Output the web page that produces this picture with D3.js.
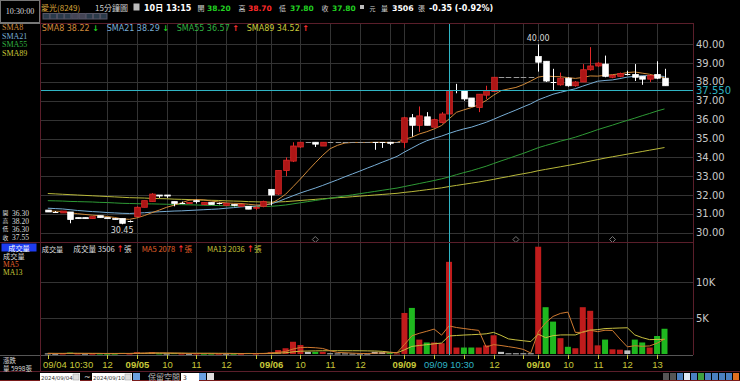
<!DOCTYPE html>
<html><head><meta charset="utf-8">
<script src="https://cdn.jsdelivr.net/npm/d3@7/dist/d3.min.js"></script>
<style>
html,body{margin:0;padding:0;background:#000;overflow:hidden}
svg{display:block}
text{font-family:"DejaVu Sans","Noto Sans CJK TC",sans-serif}
.cjk{font-family:"Noto Sans CJK TC","DejaVu Sans",sans-serif}
.ser{font-family:"Liberation Serif","Noto Sans CJK TC",serif}
.lib{font-family:"Liberation Sans","Noto Sans CJK TC",sans-serif}
</style></head>
<body><svg id="c" width="740" height="381"></svg>
<script>
// ---------- DATA (15-minute bars, 09/04 10:30 .. 09/10 13:15) ----------
const opens  = [31.20,31.10,31.05,31.10,30.80,30.80,30.75,30.90,30.80,30.75,30.75,30.60,
  30.85,31.35,31.65,32.00,32.00,31.65,31.60,31.55,31.70,31.50,31.60,31.55,31.45,31.50,31.40,31.40,31.30,31.40,
  32.30,32.05,33.30,33.80,34.55,34.80,34.80,34.60,34.80,34.80,34.80,34.80,34.80,34.80,34.80,34.80,34.80,34.80,
  34.80,36.10,35.70,36.15,35.60,35.85,36.30,37.60,37.55,37.15,36.65,37.30,37.50,38.25,38.25,38.25,38.25,38.25,
  39.35,39.10,38.00,37.85,38.20,37.80,38.00,38.65,38.85,38.95,38.25,38.30,38.45,38.40,38.30,38.15,38.40,38.20];
const highs  = [31.20,31.15,31.15,31.10,30.80,30.80,30.85,30.90,30.80,30.75,30.75,30.65,
  31.40,31.70,32.10,32.00,32.00,31.65,31.65,31.60,31.75,31.60,31.60,31.60,31.55,31.50,31.50,31.40,31.40,31.70,
  32.30,33.30,34.00,34.80,34.80,34.80,34.80,34.80,34.80,34.80,34.80,34.80,34.80,34.80,34.80,34.80,34.80,34.80,
  36.15,36.30,36.70,36.40,36.05,36.40,38.20,37.90,37.55,37.15,37.35,37.80,38.25,38.25,38.25,38.25,38.25,38.25,
  40.00,39.10,38.70,38.50,38.25,38.05,38.95,39.85,39.05,39.40,38.40,38.50,38.60,38.95,38.30,38.35,39.10,38.70];
const lows   = [31.10,31.05,31.05,30.50,30.75,30.75,30.75,30.80,30.75,30.70,30.45,30.55,
  30.85,31.35,31.65,31.85,31.85,31.40,31.55,31.55,31.55,31.50,31.50,31.50,31.45,31.40,31.40,31.25,31.20,31.35,
  31.45,32.00,33.00,33.75,34.50,34.80,34.55,34.60,34.80,34.80,34.80,34.80,34.80,34.80,34.40,34.50,34.65,34.80,
  34.50,35.10,35.35,35.70,35.60,35.80,36.30,37.40,37.00,36.70,36.40,37.10,37.50,38.25,38.25,38.25,38.25,38.25,
  38.55,38.00,37.55,37.80,37.75,37.75,38.00,38.60,38.80,38.25,38.20,38.25,38.35,38.05,37.85,38.00,38.15,37.80];
const closes = [31.10,31.10,31.15,30.70,30.75,30.75,30.85,30.80,30.75,30.70,30.50,30.60,
  31.35,31.70,32.05,31.95,31.95,31.55,31.60,31.60,31.65,31.60,31.50,31.55,31.55,31.45,31.50,31.25,31.35,31.65,
  32.00,33.30,33.85,34.60,34.80,34.80,34.70,34.80,34.80,34.80,34.80,34.80,34.80,34.80,34.80,34.80,34.75,34.80,
  36.10,35.70,36.20,35.70,36.00,36.30,37.55,37.60,37.10,36.70,37.35,37.55,38.25,38.25,38.25,38.25,38.25,38.25,
  39.05,38.05,38.00,38.20,37.80,38.00,38.65,38.85,39.00,38.30,38.35,38.45,38.45,38.25,38.15,38.35,38.20,37.80];
const volumes = [80,40,60,200,60,50,40,60,40,50,150,60,
  250,150,250,80,60,120,50,40,60,40,50,40,50,40,40,150,60,120,
  250,550,800,1700,1250,300,300,300,100,80,80,60,60,60,300,250,200,80,
  5700,6400,2000,1600,1600,1500,12800,900,900,900,900,1200,2600,300,100,100,100,100,
  14900,6500,4500,2200,1000,800,6500,6000,1200,2000,650,600,500,2000,1600,900,2500,3506];
const sma8 = [31.15,31.14,31.13,31.06,31.01,30.97,30.93,30.90,30.86,30.81,30.73,30.71,
  30.79,30.91,31.06,31.20,31.35,31.46,31.59,31.72,31.76,31.74,31.68,31.63,31.58,31.56,31.55,31.51,31.47,31.48,
  31.54,31.76,32.04,32.44,32.85,33.29,33.71,34.11,34.46,34.64,34.76,34.79,34.79,34.79,34.80,34.80,34.79,34.79,
  34.96,35.07,35.24,35.36,35.51,35.69,36.04,36.39,36.52,36.64,36.79,37.02,37.30,37.54,37.63,37.71,37.86,38.05,
  38.26,38.32,38.29,38.28,38.23,38.19,38.24,38.32,38.31,38.35,38.39,38.43,38.50,38.53,38.47,38.41,38.31,38.22];
const sma21 = [31.30,31.28,31.26,31.22,31.18,31.15,31.12,31.10,31.07,31.05,31.03,31.02,
  31.04,31.06,31.09,31.11,31.13,31.15,31.16,31.18,31.20,31.22,31.24,31.26,31.30,31.33,31.37,31.39,31.41,31.46,
  31.52,31.65,31.81,31.96,32.11,32.24,32.37,32.51,32.66,32.81,32.97,33.12,33.27,33.43,33.58,33.74,33.89,34.05,
  34.28,34.49,34.70,34.88,35.01,35.13,35.27,35.40,35.51,35.60,35.73,35.86,36.02,36.19,36.35,36.51,36.68,36.84,
  37.05,37.20,37.35,37.45,37.55,37.64,37.78,37.91,38.04,38.08,38.11,38.18,38.26,38.30,38.33,38.34,38.33,38.29];
const sma55 = [31.70,31.69,31.68,31.66,31.65,31.64,31.63,31.61,31.60,31.58,31.56,31.55,
  31.54,31.53,31.53,31.52,31.51,31.50,31.49,31.48,31.47,31.46,31.45,31.44,31.43,31.42,31.41,31.40,31.39,31.39,
  31.40,31.43,31.47,31.53,31.59,31.65,31.71,31.77,31.83,31.89,31.95,32.01,32.07,32.13,32.19,32.25,32.31,32.37,
  32.45,32.53,32.61,32.69,32.77,32.86,32.96,33.08,33.19,33.29,33.41,33.53,33.67,33.81,33.94,34.08,34.21,34.36,
  34.51,34.63,34.74,34.86,34.96,35.07,35.20,35.33,35.47,35.59,35.71,35.84,35.96,36.08,36.21,36.33,36.46,36.57];
const sma89 = [32.08,32.06,32.04,32.02,32.00,31.98,31.96,31.94,31.92,31.90,31.88,31.86,
  31.85,31.84,31.82,31.81,31.80,31.78,31.77,31.76,31.74,31.73,31.72,31.71,31.69,31.68,31.67,31.65,31.64,31.63,
  31.62,31.63,31.65,31.68,31.71,31.74,31.77,31.80,31.83,31.86,31.88,31.91,31.94,31.97,32.00,32.03,32.06,32.09,
  32.14,32.18,32.23,32.28,32.33,32.38,32.45,32.51,32.57,32.63,32.69,32.76,32.83,32.91,32.98,33.06,33.13,33.20,
  33.29,33.36,33.43,33.50,33.57,33.64,33.72,33.80,33.88,33.96,34.03,34.10,34.17,34.24,34.31,34.38,34.45,34.52];
const volMA5 = [80,70,65,95,88,82,82,82,50,48,68,72,
  110,132,172,158,158,132,112,70,66,62,48,46,48,44,44,64,68,82,
  124,226,356,684,910,920,870,770,450,216,172,124,76,68,112,146,174,178,
  1306,2526,2876,3156,3460,2620,3900,3680,3540,3400,3280,960,1300,1180,1020,860,640,140,
  3060,4340,5220,5640,5820,3000,3000,3300,3100,3300,3270,2090,990,1150,1070,1120,1500,2078];
const volMA13 = [90,88,85,90,88,85,82,80,78,78,82,80,
  88,93,109,111,100,105,105,105,105,105,105,96,95,79,71,63,62,66,
  76,115,173,299,392,412,432,451,455,458,453,453,448,434,415,372,257,167,
  582,1052,1182,1298,1415,1524,2504,2568,2633,2679,2729,2806,3000,2585,2100,1954,1838,1723,
  2754,2269,2546,2646,2654,2646,3054,3315,3385,3531,3573,3612,3642,2650,2273,1996,2019,2036];
const xTicks = [
  {i:0,label:"09/04 10:30",day:true},{i:8,label:"12"},{i:12,label:"09/05",day:true},
  {i:16,label:"10"},{i:20,label:"11"},{i:24,label:"12"},{i:28,label:""},
  {i:30,label:"09/06",day:true},{i:34,label:"10"},{i:38,label:"11"},{i:42,label:"12"},{i:46,label:""},
  {i:48,label:"09/09",day:true},{i:52,label:""},{i:56,label:""},{i:60,label:"12"},{i:64,label:""},
  {i:66,label:"09/10",day:true},{i:70,label:"10"},{i:74,label:"11"},{i:78,label:"12"},{i:82,label:"13"}];
const priceTicks = [30,31,32,33,34,35,36,37,38,39,40];
const volTicks = [{v:5000,label:"5K"},{v:10000,label:"10K"}];
const crossIndex = 54, crossPrice = 37.55, crossLabel = "09/09 10:30";
const markerIdx = [36, 63, 76];

// ---------- LAYOUT ----------
const svg = d3.select("#c");
const L = 41, R = 693, pTop = 23, pBot = 241, vTop = 243, vBot = 355;
const x = d3.scaleLinear().domain([0, 83]).range([47.8, 664.5]);
const y = d3.scaleLinear().domain([30, 40]).range([232.7, 44.3]);
const yv = d3.scaleLinear().domain([0, 10000]).range([354, 282]);
const C = {border:"#5a1e2a", grid:"#333333", axis:"#c8c8c8", olive:"#c8c83a", cyan:"#2fb4c4",
  red:"#e02828", redFill:"#ad1616", green:"#1fc21f", sma8:"#d08a3a", sma21:"#78aed6", sma55:"#2e9a35", sma89:"#b9b93a"};

svg.append("rect").attr("width",740).attr("height",381).attr("fill","#000");

// grids
const g = svg.append("g");
g.selectAll(".hg").data(priceTicks).join("line")
  .attr("x1",L).attr("x2",R).attr("y1",d=>Math.round(y(d))+0.5).attr("y2",d=>Math.round(y(d))+0.5)
  .attr("stroke",C.grid).attr("stroke-width",1);
g.selectAll(".vg").data(xTicks.filter(t=>t.i>0)).join("line")
  .attr("x1",d=>Math.round(x(d.i))+0.5).attr("x2",d=>Math.round(x(d.i))+0.5)
  .attr("y1",pTop).attr("y2",vBot).attr("stroke",C.grid);
g.selectAll(".vgh").data(volTicks).join("line")
  .attr("x1",L).attr("x2",R).attr("y1",d=>Math.round(yv(d.v))+0.5).attr("y2",d=>Math.round(yv(d.v))+0.5)
  .attr("stroke",C.grid);

// markers (diamonds)
svg.selectAll(".mk").data(markerIdx).join("path")
  .attr("d",d=>{const cx=x(d),cy=239.5;return `M${cx},${cy-3}L${cx+3},${cy}L${cx},${cy+3}L${cx-3},${cy}Z`;})
  .attr("fill","none").attr("stroke","#777");

// SMA lines
const idx = d3.range(closes.length);
const lineP = arr => d3.line().x(i=>x(i)).y(i=>y(arr[i]))(idx);
[[sma89,C.sma89],[sma55,C.sma55],[sma21,C.sma21],[sma8,C.sma8]].forEach(([a,c])=>{
  svg.append("path").attr("d",lineP(a)).attr("fill","none").attr("stroke",c).attr("stroke-width",1);
});

// candles
const bw = 5.6;
const cg = svg.append("g");
idx.forEach(i=>{
  const o=opens[i],h=highs[i],l=lows[i],c=closes[i],cx=Math.round(x(i))+0.5;
  if(o===c && h===l){
    cg.append("line").attr("x1",cx-bw/2).attr("x2",cx+bw/2).attr("y1",Math.round(y(c))+0.5).attr("y2",Math.round(y(c))+0.5)
      .attr("stroke","#9a9a9a");
    return;
  }
  const up = c>o, flat = c===o;
  const col = up? C.red : "#ffffff";
  cg.append("line").attr("x1",cx).attr("x2",cx).attr("y1",y(h)).attr("y2",y(l)).attr("stroke",col);
  if(flat){
    cg.append("line").attr("x1",cx-bw/2).attr("x2",cx+bw/2).attr("y1",Math.round(y(c))+0.5).attr("y2",Math.round(y(c))+0.5).attr("stroke","#fff");
  } else {
    const top=y(Math.max(o,c)), bot=y(Math.min(o,c));
    cg.append("rect").attr("x",cx-bw/2).attr("y",top).attr("width",bw).attr("height",Math.max(1,bot-top))
      .attr("fill",up?C.redFill:"#fff").attr("stroke",up?C.red:"#fff").attr("stroke-width",0.8);
  }
});
// max/min labels
const iMax = d3.maxIndex(highs), iMin = d3.minIndex(lows);
svg.append("text").attr("x",x(iMax)).attr("y",y(highs[iMax])-3).attr("text-anchor","middle")
  .attr("fill","#d8d8d8").attr("font-size",8).text(highs[iMax].toFixed(2));
svg.append("text").attr("x",x(iMin)).attr("y",y(lows[iMin])+9).attr("text-anchor","middle")
  .attr("fill","#d8d8d8").attr("font-size",8).text(lows[iMin].toFixed(2));

// volume bars
const vg = svg.append("g");
idx.forEach(i=>{
  const prev = i>0?closes[i-1]:closes[i];
  const col = closes[i]>prev? "#c01c1c" : closes[i]<prev? "#1fb81f" : "#c0c0c0";
  const top = yv(volumes[i]);
  vg.append("rect").attr("x",x(i)-3).attr("y",top).attr("width",6).attr("height",Math.max(1,yv(0)-top)).attr("fill",col);
});
const lineV = arr => d3.line().x(i=>x(i)).y(i=>yv(arr[i]))(idx);
svg.append("path").attr("d",lineV(volMA13)).attr("fill","none").attr("stroke","#c8c040").attr("stroke-width",1);
svg.append("path").attr("d",lineV(volMA5)).attr("fill","none").attr("stroke","#d07a30").attr("stroke-width",1);

// crosshair
svg.append("line").attr("x1",Math.round(x(crossIndex))+0.5).attr("x2",Math.round(x(crossIndex))+0.5)
  .attr("y1",pTop).attr("y2",vBot).attr("stroke",C.cyan);
svg.append("line").attr("x1",L).attr("x2",R).attr("y1",Math.round(y(crossPrice))+0.5).attr("y2",Math.round(y(crossPrice))+0.5)
  .attr("stroke",C.cyan);

// borders
const bd = svg.append("g").attr("stroke",C.border).attr("fill","none");
bd.append("line").attr("x1",40.5).attr("x2",40.5).attr("y1",0).attr("y2",372);
bd.append("line").attr("x1",R+0.5).attr("x2",R+0.5).attr("y1",pTop).attr("y2",vBot);
bd.append("line").attr("x1",40).attr("x2",R+1).attr("y1",pTop+0.5).attr("y2",pTop+0.5);
bd.append("line").attr("x1",0).attr("x2",R+1).attr("y1",242.5).attr("y2",242.5);
svg.append("line").attr("x1",L).attr("x2",R).attr("y1",vBot+0.5).attr("y2",vBot+0.5).attr("stroke","#555");
svg.append("line").attr("x1",0).attr("x2",740).attr("y1",371.5).attr("y2",371.5).attr("stroke",C.border);
svg.append("line").attr("x1",0).attr("x2",740).attr("y1",380.5).attr("y2",380.5).attr("stroke","#7a1b1b");

// right axis
svg.selectAll(".pt").data(priceTicks).join("text").attr("x",696).attr("y",d=>y(d)+3.5)
  .attr("fill",C.axis).attr("font-size",10).text(d=>d.toFixed(2));
svg.append("text").attr("x",696).attr("y",y(crossPrice)+4).attr("fill",C.cyan).attr("font-size",10).text(crossPrice.toFixed(3));
svg.selectAll(".vt").data(volTicks).join("text").attr("x",696).attr("y",d=>yv(d.v)+3.5)
  .attr("fill",C.axis).attr("font-size",10).text(d=>d.label);

// x axis
const xt = svg.append("g");
xTicks.forEach(t=>{
  const tx = Math.round(x(t.i))+0.5;
  xt.append("line").attr("x1",tx).attr("x2",tx).attr("y1",vBot).attr("y2",vBot+4).attr("stroke",C.olive);
  if(!t.label) return;
  const first = t.i===0;
  xt.append("text").attr("class","lib").attr("x",first?43:tx).attr("y",368).attr("text-anchor",first?"start":"middle")
    .attr("fill",C.olive).attr("font-size",9.5).attr("font-weight",t.day&&!first?"bold":"normal").text(t.label);
});
svg.append("text").attr("class","lib").attr("x",x(crossIndex)).attr("y",368).attr("text-anchor","middle").attr("fill",C.cyan)
  .attr("font-size",9.5).text(crossLabel);

// ---------- HEADER ----------
svg.append("rect").attr("x",0.5).attr("y",0.5).attr("width",39).attr("height",22).attr("fill","#000").attr("stroke","#777");
svg.append("text").attr("class","ser").attr("x",20).attr("y",14).attr("text-anchor","middle").attr("fill","#ddd").attr("font-size",8).text("10:30:00");
const hdr = [
  {x:41,t:"愛光(8249)",c:"#d9a63a",s:8,cjk:1},
  {x:95,t:"15分鐘圖",c:"#cfcfcf",s:8,cjk:1},
  {x:144,t:"10日 13:15",c:"#fff",s:8,b:1},
  {x:197.5,t:"開",c:"#cfcfcf",s:7,cjk:1},{x:207,t:"38.20",c:"#22d022",s:7.5,b:1},
  {x:238.5,t:"高",c:"#cfcfcf",s:7,cjk:1},{x:248,t:"38.70",c:"#ff2a2a",s:7.5,b:1},
  {x:279,t:"低",c:"#cfcfcf",s:7,cjk:1},{x:290,t:"37.80",c:"#22d022",s:7.5,b:1},
  {x:321.5,t:"收",c:"#cfcfcf",s:7,cjk:1},{x:332,t:"37.80",c:"#22d022",s:7.5,b:1},
  {x:369.5,t:"元",c:"#cfcfcf",s:6,cjk:1},
  {x:381,t:"量",c:"#cfcfcf",s:7,cjk:1},{x:392,t:"3506",c:"#fff",s:7.8,b:1},
  {x:418,t:"張",c:"#cfcfcf",s:7,cjk:1},{x:429,t:"-0.35 (-0.92%)",c:"#fff",s:8,b:1}];
hdr.forEach(d=>svg.append("text").attr("x",d.x).attr("y",10.5).attr("fill",d.c).attr("font-size",d.s)
  .attr("font-weight",d.b?"bold":"normal").attr("class",d.cjk?"cjk":null).text(d.t));
svg.append("rect").attr("x",133.5).attr("y",3.5).attr("width",6).attr("height",7).attr("fill","#bbb");
svg.append("rect").attr("x",360).attr("y",5).attr("width",4).attr("height",4).attr("fill","#bbb");
["1","5","10","15","30","60","日","週","月"].forEach((t,k)=>{
  const bx = 43+k*7.2;
  svg.append("rect").attr("x",bx).attr("y",13.5).attr("width",6.4).attr("height",5.5)
    .attr("fill",(k===4||k===5)?"#445":"#2a3a4a").attr("stroke","#556");
});

// SMA legend
const leg = [
  {x:41.7,t:"SMA8 38.22",c:C.sma8,a:"↓",ac:"#22d022"},
  {x:106.7,t:"SMA21 38.29",c:C.sma21,a:"↓",ac:"#22d022"},
  {x:176.7,t:"SMA55 36.57",c:"#30b040",a:"↑",ac:"#ff3030"},
  {x:246.7,t:"SMA89 34.52",c:"#c8c83a",a:"↑",ac:"#ff3030"}];
leg.forEach(d=>{
  const tx = svg.append("text").attr("x",d.x).attr("y",30.5).attr("font-size",8);
  tx.append("tspan").attr("fill",d.c).text(d.t+" ");
  tx.append("tspan").attr("fill",d.ac).attr("font-weight","bold").text(d.a);
});
// left labels
[["SMA8",C.sma8,30],["SMA21",C.sma21,38.5],["SMA55","#30b040",47],["SMA89","#c8c83a",55.5]].forEach(d=>
  svg.append("text").attr("class","ser").attr("x",2).attr("y",d[2]).attr("fill",d[1]).attr("font-size",8).text(d[0]));
svg.append("line").attr("x1",0).attr("x2",40).attr("y1",23.5).attr("y2",23.5).attr("stroke","#777");
[["開","36.30",215.5],["高","38.20",223.5],["低","36.30",231.5],["收","37.55",240]].forEach(d=>{
  svg.append("text").attr("x",2.5).attr("y",d[2]-0.5).attr("fill","#ddd").attr("font-size",5.8).attr("class","cjk").text(d[0]);
  svg.append("text").attr("x",12).attr("y",d[2]).attr("fill","#ddd").attr("font-size",7.5).attr("class","ser").text(d[1]);
});
svg.append("rect").attr("x",1.5).attr("y",243.5).attr("width",35).attr("height",8).attr("fill","#1e3cf0");
svg.append("text").attr("x",19).attr("y",250.5).attr("text-anchor","middle").attr("fill","#fff").attr("font-size",7.2).attr("class","cjk").text("成交量");
svg.append("text").attr("x",3).attr("y",258.5).attr("fill","#ddd").attr("font-size",7.2).attr("class","cjk").text("成交量");
svg.append("text").attr("x",3).attr("y",266.5).attr("fill","#e0602a").attr("font-size",7.5).attr("class","ser").text("MA5");
svg.append("text").attr("x",3).attr("y",275).attr("fill","#c8c83a").attr("font-size",7.5).attr("class","ser").text("MA13");
svg.append("text").attr("x",3).attr("y",362.5).attr("fill","#ddd").attr("font-size",6.5).attr("class","cjk").text("漲跌");
svg.append("text").attr("x",3).attr("y",371).attr("fill","#ddd").attr("font-size",6.5).attr("class","cjk").text("量 5998張");
svg.append("line").attr("x1",0).attr("x2",40).attr("y1",355.5).attr("y2",355.5).attr("stroke","#555");

// volume legend
svg.append("text").attr("x",41.7).attr("y",251.5).attr("font-size",7.2).attr("class","cjk").attr("fill","#ddd").text("成交量");
[[73.3,"成交量 3506","#ddd"],[141.7,"MA5 2078","#e0602a"],[207,"MA13 2036","#c8c83a"]].forEach(d=>{
  const t = svg.append("text").attr("x",d[0]).attr("y",251.5).attr("font-size",7.6).attr("class","cjk");
  t.append("tspan").attr("fill",d[2]).text(d[1]+" ");
  t.append("tspan").attr("fill","#ff3030").attr("font-weight","bold").text("↑");
  t.append("tspan").attr("fill",d[2]).text("張");
});

// bottom controls
[[40,"2024/09/04"],[92,"2024/09/10"]].forEach(d=>{
  svg.append("rect").attr("x",d[0]).attr("y",373).attr("width",40).attr("height",8).attr("fill","#fff");
  svg.append("text").attr("x",d[0]+1).attr("y",379.5).attr("fill","#333").attr("font-size",5.5).text(d[1]);
  svg.append("rect").attr("x",d[0]+33).attr("y",374).attr("width",6).attr("height",6).attr("fill","#ddd").attr("stroke","#999").attr("stroke-width",0.5);
});
svg.append("text").attr("x",84).attr("y",380).attr("fill","#ccc").attr("font-size",8).text("~");
svg.append("rect").attr("x",133).attr("y",373).attr("width",7).attr("height",7).attr("fill","#6aa0e0");
svg.append("text").attr("x",148).attr("y",380).attr("fill","#bbb").attr("font-size",8).attr("class","cjk").text("保留空間");
svg.append("rect").attr("x",181).attr("y",373).attr("width",18).attr("height",8).attr("fill","#fff");
svg.append("text").attr("x",183).attr("y",380).attr("fill","#333").attr("font-size",6).text("3");
svg.append("rect").attr("x",199).attr("y",373).attr("width",7).attr("height",7).attr("fill","#6aa0e0");
svg.append("rect").attr("x",207).attr("y",373).attr("width",7).attr("height",7).attr("fill","#ddd");
const tb = ["#555","#555","#4a7fc0","#dfe8f5","#4a7fc0","#3fa03f","#4a7fc0","#4a7fc0","#4a7fc0","#4a7fc0","#e07020"];
tb.forEach((c,k)=>svg.append("rect").attr("x",663+k*7).attr("y",373).attr("width",6).attr("height",7).attr("fill",c));
</script></body></html>
